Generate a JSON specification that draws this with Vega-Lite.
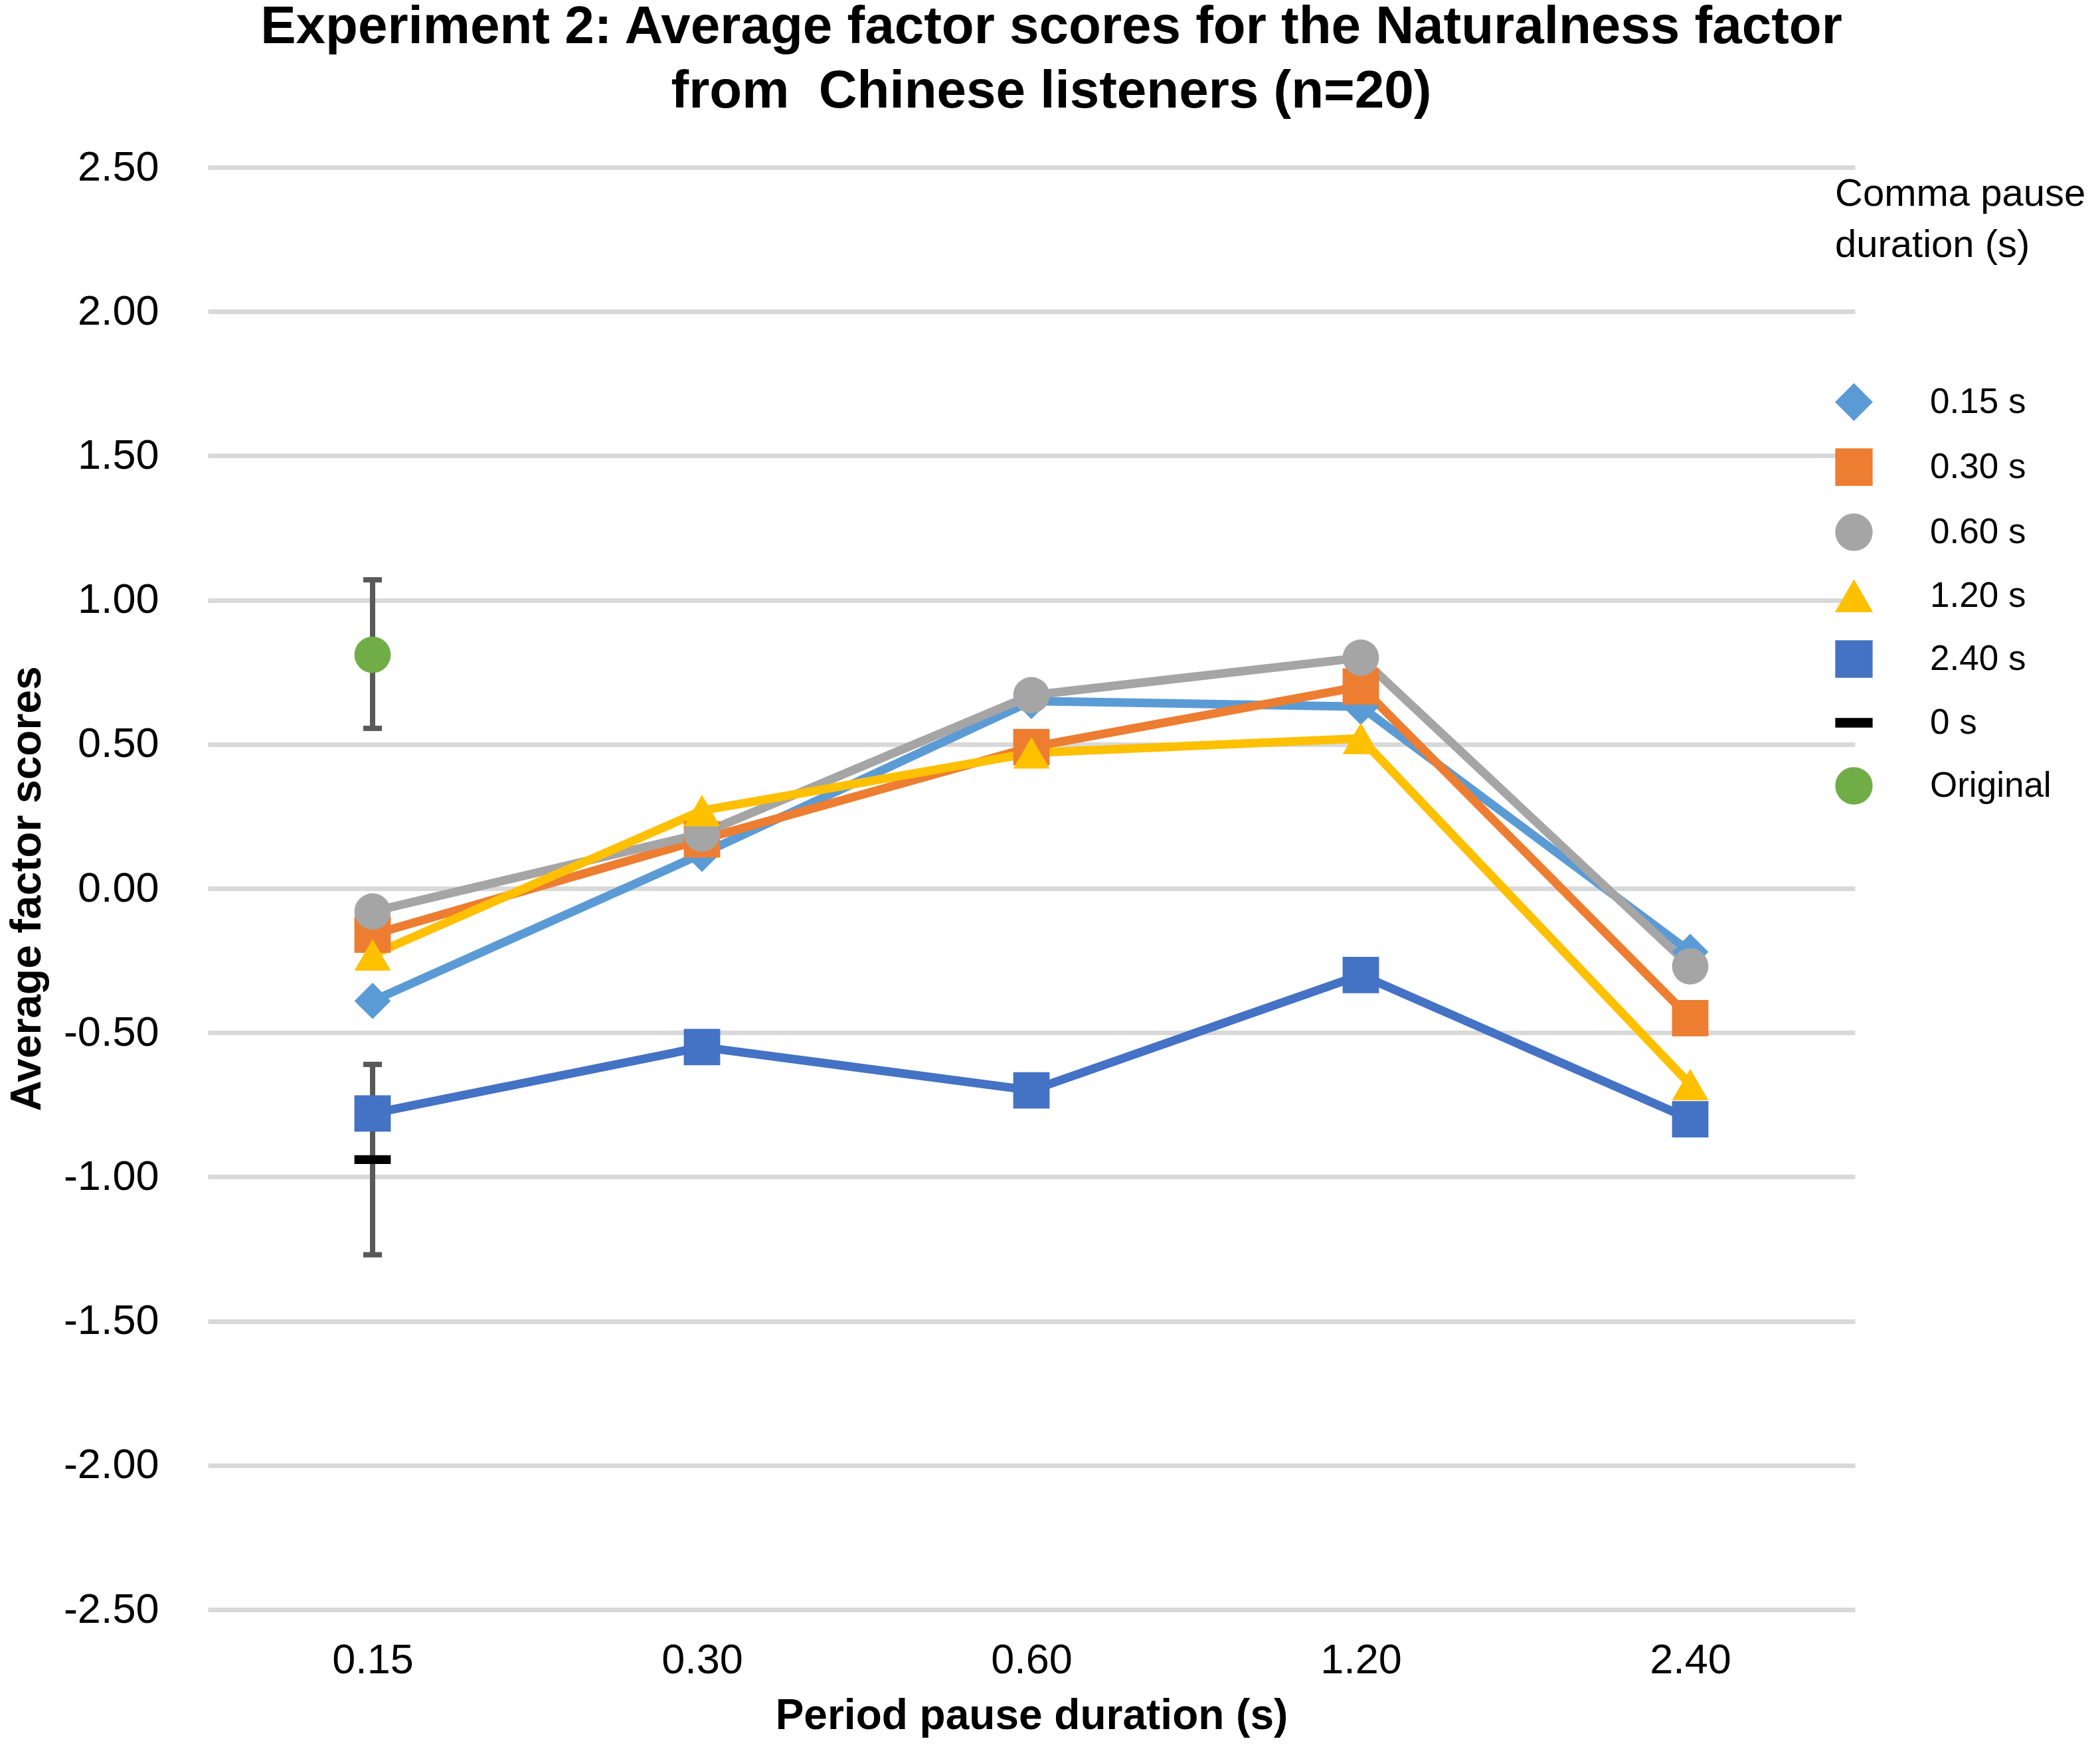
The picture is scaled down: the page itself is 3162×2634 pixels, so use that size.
{
  "$schema": "https://vega.github.io/schema/vega-lite/v6.json",
  "description": "Experiment 2 naturalness factor scores, Chinese listeners",
  "width": 2480,
  "height": 2172,
  "autosize": "none",
  "padding": {"left": 313, "top": 252, "right": 369, "bottom": 210},
  "background": "#ffffff",
  "config": {
    "font": "Liberation Sans",
    "view": {"stroke": null}
  },
  "title": {
    "text": ["Experiment 2: Average factor scores for the Naturalness factor", "from\u00a0 Chinese listeners (n=20)"],
    "font": "Liberation Sans",
    "fontSize": 80,
    "fontWeight": "bold",
    "color": "#000000",
    "lineHeight": 97,
    "anchor": "middle",
    "dx": 30,
    "offset": 42
  },
  "data": {
    "values": [
      {"comma": "0.15 s", "period": "0.15", "score": -0.39},
      {"comma": "0.15 s", "period": "0.30", "score": 0.12},
      {"comma": "0.15 s", "period": "0.60", "score": 0.65},
      {"comma": "0.15 s", "period": "1.20", "score": 0.63},
      {"comma": "0.15 s", "period": "2.40", "score": -0.22},
      {"comma": "0.30 s", "period": "0.15", "score": -0.16},
      {"comma": "0.30 s", "period": "0.30", "score": 0.17},
      {"comma": "0.30 s", "period": "0.60", "score": 0.49},
      {"comma": "0.30 s", "period": "1.20", "score": 0.70},
      {"comma": "0.30 s", "period": "2.40", "score": -0.45},
      {"comma": "0.60 s", "period": "0.15", "score": -0.08},
      {"comma": "0.60 s", "period": "0.30", "score": 0.19},
      {"comma": "0.60 s", "period": "0.60", "score": 0.67},
      {"comma": "0.60 s", "period": "1.20", "score": 0.80},
      {"comma": "0.60 s", "period": "2.40", "score": -0.27},
      {"comma": "1.20 s", "period": "0.15", "score": -0.23},
      {"comma": "1.20 s", "period": "0.30", "score": 0.27},
      {"comma": "1.20 s", "period": "0.60", "score": 0.47},
      {"comma": "1.20 s", "period": "1.20", "score": 0.52},
      {"comma": "1.20 s", "period": "2.40", "score": -0.68},
      {"comma": "2.40 s", "period": "0.15", "score": -0.78},
      {"comma": "2.40 s", "period": "0.30", "score": -0.55},
      {"comma": "2.40 s", "period": "0.60", "score": -0.70},
      {"comma": "2.40 s", "period": "1.20", "score": -0.30},
      {"comma": "2.40 s", "period": "2.40", "score": -0.80},
      {"comma": "0 s", "period": "0.15", "score": -0.94, "lower": -1.27, "upper": -0.61},
      {"comma": "Original", "period": "0.15", "score": 0.81, "lower": 0.555, "upper": 1.07}
    ]
  },
  "encoding": {
    "x": {
      "field": "period",
      "type": "ordinal",
      "sort": ["0.15", "0.30", "0.60", "1.20", "2.40"],
      "scale": {"type": "point", "padding": 0.5},
      "axis": {
        "labelAngle": 0,
        "domain": false,
        "ticks": false,
        "grid": false,
        "labelPadding": 45,
        "labelFontSize": 63,
        "labelColor": "#000000",
        "title": "Period pause duration (s)",
        "titleFontSize": 64,
        "titleFontWeight": "bold",
        "titleColor": "#000000",
        "titlePadding": 20
      }
    }
  },
  "layer": [
    {
      "transform": [{"filter": "isValid(datum.lower)"}],
      "mark": {"type": "rule", "color": "#595959", "strokeWidth": 8},
      "encoding": {
        "y": {"field": "lower", "type": "quantitative", "title": "Average factor scores", "scale": {"domain": [-2.5, 2.5]}},
        "y2": {"field": "upper"}
      }
    },
    {
      "transform": [{"filter": "isValid(datum.lower)"}],
      "mark": {"type": "tick", "color": "#595959", "size": 28, "thickness": 8, "opacity": 1},
      "encoding": {
        "y": {"field": "lower", "type": "quantitative", "title": "Average factor scores"}
      }
    },
    {
      "transform": [{"filter": "isValid(datum.lower)"}],
      "mark": {"type": "tick", "color": "#595959", "size": 28, "thickness": 8, "opacity": 1},
      "encoding": {
        "y": {"field": "upper", "type": "quantitative", "title": "Average factor scores"}
      }
    },
    {
      "transform": [{"filter": "datum.comma != '0 s' && datum.comma != 'Original'"}],
      "mark": {"type": "line", "strokeWidth": 13, "strokeJoin": "round", "strokeCap": "round"},
      "encoding": {
        "y": {"field": "score", "type": "quantitative", "title": "Average factor scores"},
        "color": {
          "field": "comma",
          "type": "nominal",
          "scale": {
            "domain": ["0.15 s", "0.30 s", "0.60 s", "1.20 s", "2.40 s", "0 s", "Original"],
            "range": ["#5B9BD5", "#ED7D31", "#A5A5A5", "#FFC000", "#4472C4", "#000000", "#70AD47"]
          }
        }
      }
    },
    {
      "mark": {"type": "point", "filled": true, "opacity": 1, "strokeWidth": 0},
      "encoding": {
        "y": {
          "field": "score",
          "type": "quantitative",
          "title": "Average factor scores",
          "axis": {
            "values": [-2.5, -2, -1.5, -1, -0.5, 0, 0.5, 1, 1.5, 2, 2.5],
            "labelExpr": "(datum.value < 0 ? '-' : '') + format(abs(datum.value), '.2f')",
            "grid": true,
            "gridColor": "#D9D9D9",
            "gridWidth": 7,
            "domain": false,
            "ticks": false,
            "labelPadding": 74,
            "labelFontSize": 63,
            "labelColor": "#000000",
            "titleFontSize": 64,
            "titleFontWeight": "bold",
            "titleColor": "#000000",
            "titlePadding": 40
          }
        },
        "color": {
          "field": "comma",
          "type": "nominal",
          "scale": {
            "domain": ["0.15 s", "0.30 s", "0.60 s", "1.20 s", "2.40 s", "0 s", "Original"],
            "range": ["#5B9BD5", "#ED7D31", "#A5A5A5", "#FFC000", "#4472C4", "#000000", "#70AD47"]
          },
          "legend": {
            "title": ["Comma pause", "duration (s)"],
            "orient": "none",
            "legendX": 2450,
            "legendY": 12,
            "titleFontSize": 58,
            "titleFontWeight": "normal",
            "titleColor": "#000000",
            "titleLineHeight": 77,
            "titleLimit": 800,
            "titlePadding": 178,
            "labelFontSize": 53,
            "labelColor": "#000000",
            "labelLimit": 500,
            "labelOffset": 86,
            "symbolSize": 6400,
            "rowPadding": 37
          }
        },
        "shape": {
          "field": "comma",
          "type": "nominal",
          "scale": {
            "domain": ["0.15 s", "0.30 s", "0.60 s", "1.20 s", "2.40 s", "0 s", "Original"],
            "range": ["diamond", "square", "circle", "triangle-up", "square", "M-1,-0.24L1,-0.24L1,0.24L-1,0.24Z", "circle"]
          },
          "legend": null
        },
        "size": {
          "field": "comma",
          "type": "nominal",
          "scale": {
            "domain": ["0.15 s", "0.30 s", "0.60 s", "1.20 s", "2.40 s", "0 s", "Original"],
            "range": [3000, 3000, 3250, 2800, 1450, 3600, 3800]
          },
          "legend": null
        }
      }
    }
  ]
}
